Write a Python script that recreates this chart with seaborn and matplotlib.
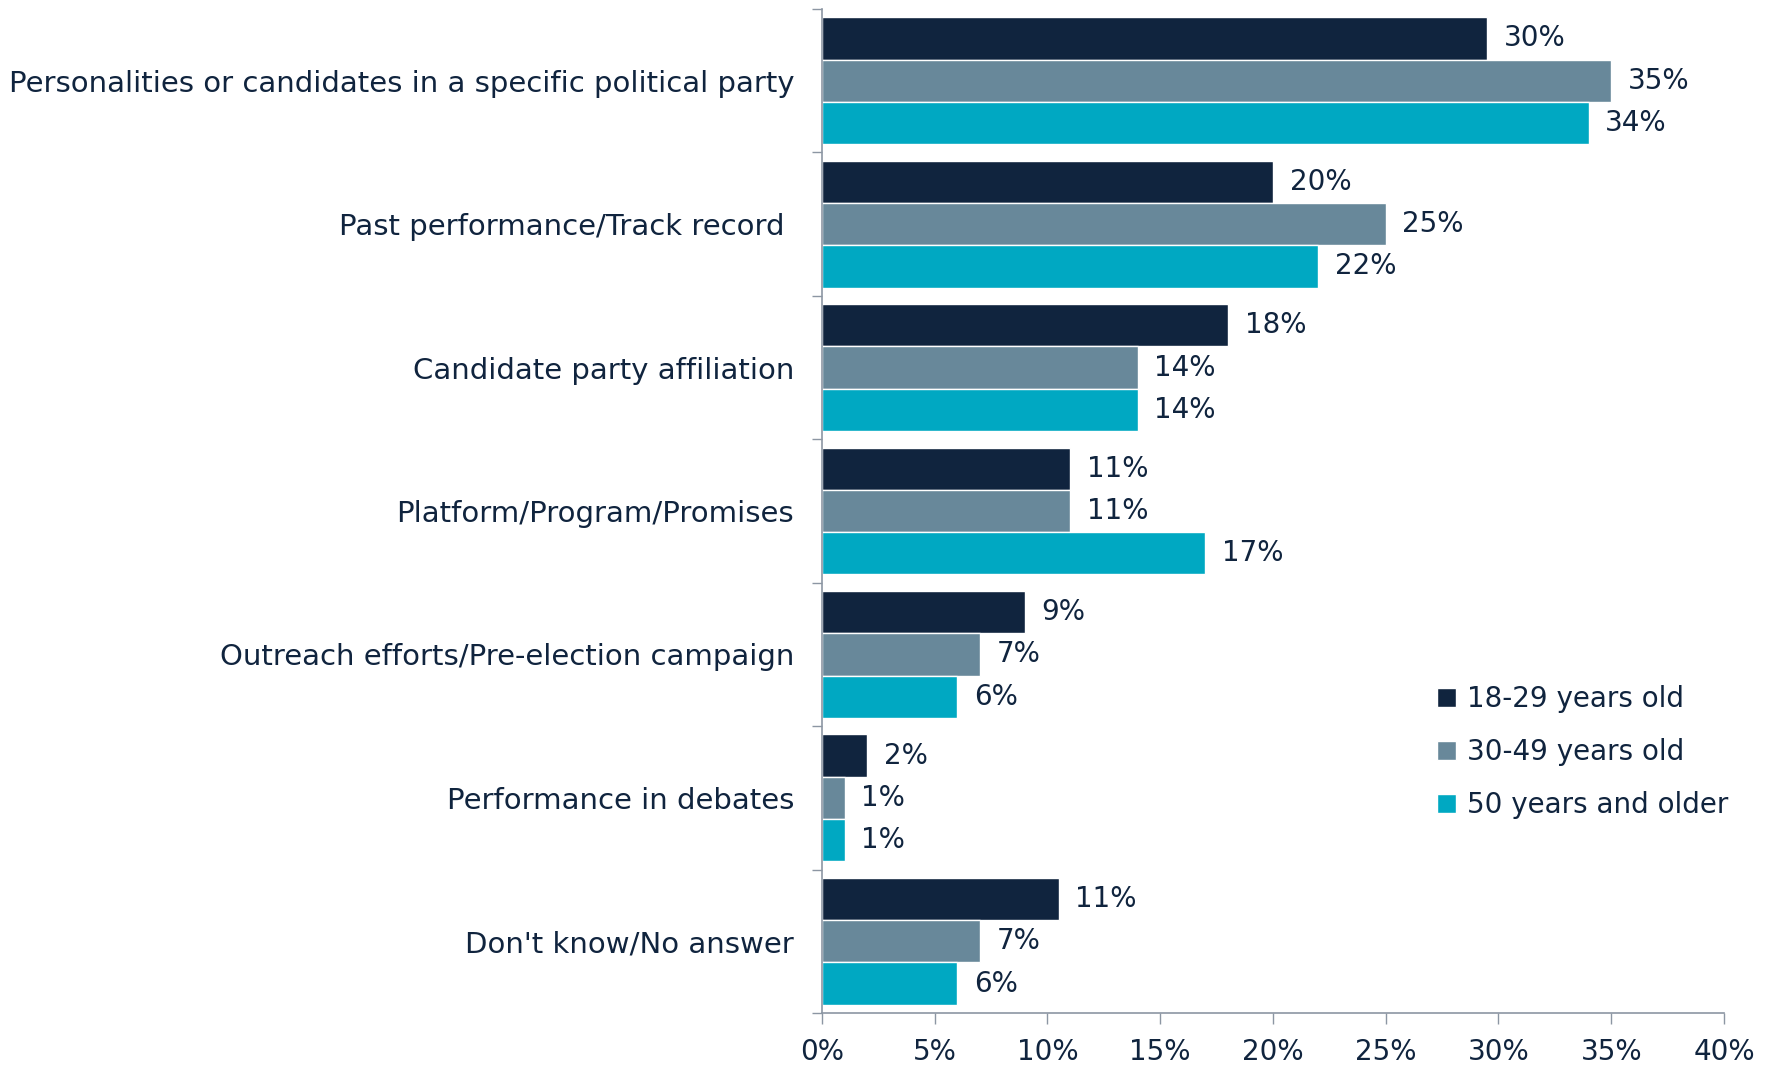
import pandas as pd
import matplotlib.pyplot as plt
import seaborn as sns
from matplotlib.ticker import FixedLocator, PercentFormatter


# Chart data
categories = [
    'Personalities or candidates in a specific political party',
    'Past performance/Track record ',
    'Candidate party affiliation',
    'Platform/Program/Promises',
    'Outreach efforts/Pre-election campaign',
    'Performance in debates',
    "Don't know/No answer",
]
groups = ['18-29 years old', '30-49 years old', '50 years and older']
age_18_29 = [29.5, 20, 18, 11, 9, 2, 10.5]
age_30_49 = [35, 25, 14, 11, 7, 1, 7]
age_50_up = [34, 22, 14, 17, 6, 1, 6]
labels_18_29 = ['30%', '20%', '18%', '11%', '9%', '2%', '11%']
labels_30_49 = ['35%', '25%', '14%', '11%', '7%', '1%', '7%']
labels_50_up = ['34%', '22%', '14%', '17%', '6%', '1%', '6%']

colors = ['#10243e', '#68889a', '#00a8c2']
text_color = '#10243e'
axis_color = '#8c96a3'

df = pd.DataFrame({
    'Category': categories * 3,
    'Group': [g for g in groups for _ in categories],
    'Value': age_18_29 + age_30_49 + age_50_up,
})

sns.set_style('white')
plt.rcParams['font.family'] = ['DejaVu Sans']

fig = plt.figure(figsize=(17.7, 10.69), dpi=100)
ax = fig.add_axes([0.4644, 0.0524, 0.974 - 0.4644, 0.9916 - 0.0524])

sns.barplot(data=df, y='Category', x='Value', hue='Group', order=categories,
            hue_order=groups, palette=colors, saturation=1, orient='h', width=0.885,
            edgecolor='white', linewidth=1, ax=ax)

for container, labs in zip(ax.containers, [labels_18_29, labels_30_49, labels_50_up]):
    ax.bar_label(container, labels=labs, padding=12, fontsize=20, color=text_color)

ax.set_xlim(0, 40)
ax.set_ylim(len(categories) - 0.5, -0.5)
ax.xaxis.set_major_formatter(PercentFormatter(decimals=0))
ax.set_xticks(range(0, 41, 5))

# tick marks between categories
ax.yaxis.set_minor_locator(FixedLocator([i - 0.5 for i in range(len(categories) + 1)]))
ax.tick_params(axis='y', which='major', left=True, length=0, pad=20, labelsize=21,
               labelcolor=text_color)
ax.tick_params(axis='y', which='minor', left=True, length=7, width=1, color=axis_color,
               direction='out')
ax.tick_params(axis='x', bottom=True, length=8, width=1, color=axis_color, direction='out',
               labelsize=20, labelcolor=text_color, pad=10)

ax.set_xlabel('')
ax.set_ylabel('')
for side in ['top', 'right']:
    ax.spines[side].set_visible(False)
for side in ['left', 'bottom']:
    ax.spines[side].set_color(axis_color)
    ax.spines[side].set_linewidth(1.2)

ax.legend(loc='lower right', bbox_to_anchor=(1.033, 0.168), frameon=False,
          fontsize=20, labelcolor=text_color, handlelength=0.7, handleheight=0.7,
          handletextpad=0.4, labelspacing=0.9)

plt.savefig('out.png', dpi=100)
